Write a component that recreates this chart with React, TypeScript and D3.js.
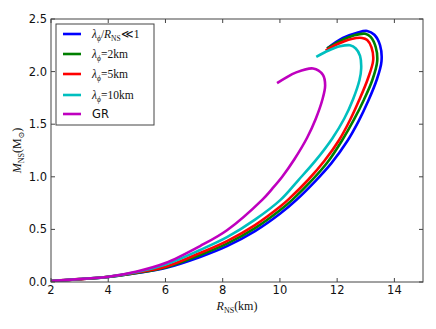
import React from "react";
import * as d3 from "d3";

// Data: [R_NS (km), M_NS (Msun)]
const seriesSmall: [number, number][] = [
  [2.0, 0.01], [3.0, 0.026], [4.0, 0.048], [5.0, 0.085], [6.0, 0.133], [7.21, 0.238],
  [8.15, 0.341], [9.13, 0.483], [10.0, 0.648], [10.57, 0.779], [11.23, 0.957],
  [11.8, 1.13], [12.35, 1.338], [12.75, 1.53], [13.08, 1.718], [13.38, 1.92], [13.55, 2.1], [13.5, 2.25],
  [13.3, 2.35], [13.05, 2.386], [12.7, 2.37], [12.2, 2.32], [11.65, 2.22],
];
const series2km: [number, number][] = [
  [2.0, 0.01], [3.0, 0.027], [4.0, 0.049], [5.0, 0.087], [6.0, 0.139], [7.21, 0.257],
  [8.15, 0.365], [9.13, 0.512], [10.0, 0.682], [10.43, 0.781], [11.13, 0.97],
  [11.67, 1.14], [12.17, 1.345], [12.6, 1.55], [12.94, 1.735], [13.23, 1.92], [13.4, 2.1], [13.35, 2.23],
  [13.17, 2.33], [12.98, 2.36], [12.6, 2.345], [12.1, 2.29], [11.65, 2.22],
];
const series5km: [number, number][] = [
  [2.0, 0.01], [3.0, 0.027], [4.0, 0.05], [5.0, 0.09], [6.0, 0.145], [7.21, 0.276],
  [8.15, 0.389], [9.13, 0.541], [10.0, 0.715], [10.29, 0.783], [10.99, 0.972],
  [11.55, 1.15], [12.07, 1.35], [12.45, 1.54], [12.77, 1.73], [13.07, 1.93], [13.26, 2.11], [13.2, 2.23],
  [13.05, 2.3], [12.87, 2.32], [12.5, 2.31], [12.0, 2.26], [11.6, 2.2],
];
const series10km: [number, number][] = [
  [2.0, 0.01], [3.0, 0.028], [4.0, 0.05], [5.0, 0.095], [6.0, 0.165], [7.21, 0.304],
  [8.15, 0.426], [9.13, 0.593], [10.01, 0.778], [10.64, 0.967], [11.25, 1.156],
  [11.83, 1.365], [12.25, 1.554], [12.56, 1.74], [12.78, 1.92], [12.84, 2.03],
  [12.8, 2.15], [12.65, 2.22], [12.45, 2.25], [12.1, 2.24], [11.7, 2.2], [11.27, 2.14],
];
const seriesGR: [number, number][] = [
  [2.0, 0.01], [3.0, 0.028], [4.0, 0.05], [5.0, 0.1], [6.0, 0.18], [7.21, 0.342],
  [8.15, 0.492], [9.38, 0.781], [9.73, 0.886], [10.08, 1.0], [10.5, 1.164],
  [10.95, 1.371], [11.25, 1.55], [11.48, 1.73], [11.58, 1.87], [11.5, 1.97],
  [11.16, 2.03], [10.55, 1.99], [10.2, 1.94], [9.9, 1.89],
];

const xTicks = [2, 4, 6, 8, 10, 12, 14];
const yTicks = [0.0, 0.5, 1.0, 1.5, 2.0, 2.5];

const colors = ["#0000ff", "#008000", "#ff0000", "#00bfbf", "#bf00bf"];
const allSeries = [seriesSmall, series2km, series5km, series10km, seriesGR];

const W = 436;
const H = 329;
const left = 51, right = 423, top = 19, bottom = 282;

export default function App() {
  const x = d3.scaleLinear().domain([2, 15]).range([left, right]);
  const y = d3.scaleLinear().domain([0, 2.5]).range([bottom, top]);
  const line = d3
    .line<[number, number]>()
    .x((d) => x(d[0]))
    .y((d) => y(d[1]))
    .curve(d3.curveCatmullRom.alpha(0.5));

  const tickLen = 4;
  const frame = "#444";
  const sans = "'DejaVu Sans', sans-serif";
  const mathFont = "'Liberation Serif', 'DejaVu Serif', serif";

  const legendY = [34, 54, 74, 95, 114];

  return (
    <svg
      width={W}
      height={H}
      style={{ position: "absolute", left: 0, top: 0, background: "#fff" }}
    >
      <rect x={0} y={0} width={W} height={H} fill="#fff" />
      <defs>
        <clipPath id="plotclip">
          <rect x={left} y={top} width={right - left} height={bottom - top} />
        </clipPath>
      </defs>
      <g clipPath="url(#plotclip)">
        {allSeries.map((s, i) => (
          <path
            key={i}
            d={line(s) || ""}
            fill="none"
            stroke={colors[i]}
            strokeWidth={2.6}
            strokeLinejoin="round"
            strokeLinecap="butt"
          />
        ))}
      </g>
      {/* frame */}
      <rect
        x={left}
        y={top}
        width={right - left}
        height={bottom - top}
        fill="none"
        stroke={frame}
        strokeWidth={1}
      />
      {/* x ticks */}
      {xTicks.map((t) => (
        <g key={"x" + t}>
          <line x1={x(t)} x2={x(t)} y1={bottom} y2={bottom - tickLen} stroke={frame} />
          <line x1={x(t)} x2={x(t)} y1={top} y2={top + tickLen} stroke={frame} />
          <text
            x={x(t)}
            y={bottom + 12}
            textAnchor="middle"
            fontFamily={sans}
            fontSize="11.5"
            fill="#111"
          >
            {t}
          </text>
        </g>
      ))}
      {/* y ticks */}
      {yTicks.map((t) => (
        <g key={"y" + t}>
          <line x1={left} x2={left + tickLen} y1={y(t)} y2={y(t)} stroke={frame} />
          <line x1={right} x2={right - tickLen} y1={y(t)} y2={y(t)} stroke={frame} />
          <text
            x={left - 4}
            y={y(t) + 4}
            textAnchor="end"
            fontFamily={sans}
            fontSize="11.5"
            fill="#111"
          >
            {t.toFixed(1)}
          </text>
        </g>
      ))}
      {/* x label */}
      <text x={237} y={310} textAnchor="middle" fontFamily={mathFont} fontSize="12" fill="#111">
        <tspan fontStyle="italic">R</tspan>
        <tspan fontSize="8" dy="2.5">NS</tspan>
        <tspan dy="-2.5">(km)</tspan>
      </text>
      {/* y label */}
      <text
        transform={`translate(21, ${(top + bottom) / 2}) rotate(-90)`}
        textAnchor="middle"
        fontFamily={mathFont}
        fontSize="12"
        fill="#111"
      >
        <tspan fontStyle="italic">M</tspan>
        <tspan fontSize="8" dy="2.5">NS</tspan>
        <tspan dy="-2.5">(M</tspan>
        <tspan fontSize="8" dy="2.5">⊙</tspan>
        <tspan dy="-2.5">)</tspan>
      </text>
      {/* legend */}
      <rect x={56} y={24} width={98} height={101} fill="#fff" stroke={frame} strokeWidth={1} />
      {legendY.map((ly, i) => (
        <line key={"l" + i} x1={63} x2={81} y1={ly} y2={ly} stroke={colors[i]} strokeWidth={2.6} />
      ))}
      <text x={92} y={legendY[0] + 4} fontFamily={mathFont} fontSize="11.5" fill="#111">
        <tspan fontStyle="italic">λ</tspan>
        <tspan fontSize="7.5" dy="2.5" fontStyle="italic">ϕ</tspan>
        <tspan dy="-2.5">/</tspan>
        <tspan fontStyle="italic">R</tspan>
        <tspan fontSize="7.5" dy="2.5">NS</tspan>
        <tspan dy="-2.5">≪1</tspan>
      </text>
      {["2km", "5km", "10km"].map((v, k) => (
        <text
          key={"t" + k}
          x={92}
          y={legendY[k + 1] + 4}
          fontFamily={mathFont}
          fontSize="11.5"
          fill="#111"
        >
          <tspan fontStyle="italic">λ</tspan>
          <tspan fontSize="7.5" dy="2.5" fontStyle="italic">ϕ</tspan>
          <tspan dy="-2.5">={v}</tspan>
        </text>
      ))}
      <text x={92} y={legendY[4] + 4} fontFamily={sans} fontSize="11.5" fill="#111">
        GR
      </text>
    </svg>
  );
}
